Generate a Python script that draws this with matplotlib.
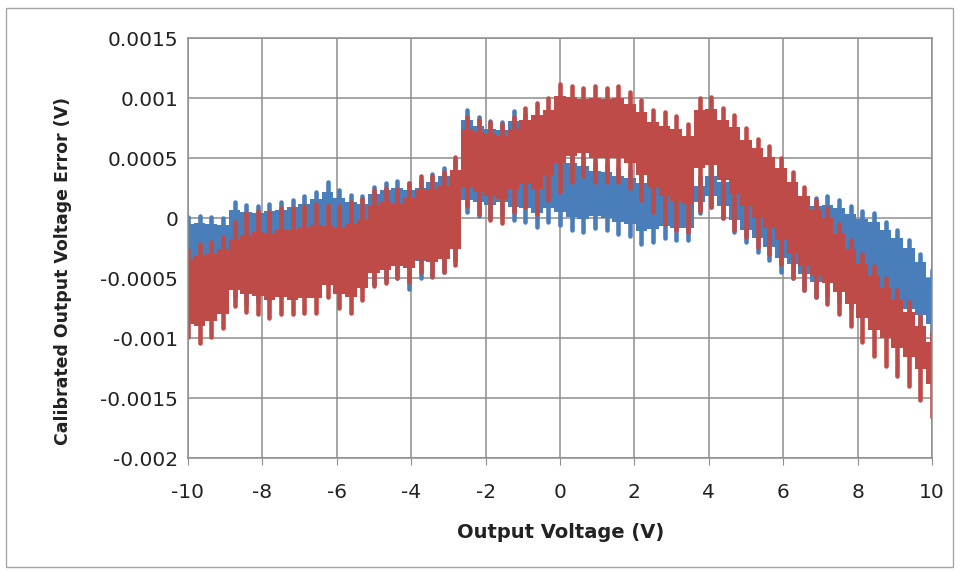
import numpy as np
import matplotlib
matplotlib.use('Agg')
import matplotlib.pyplot as plt
from matplotlib.patches import Rectangle

# Configuration
fig_w, fig_h, dpi = 9.61, 5.75, 100
blue_color = '#4A7EBB'
red_color = '#BE4B48'
grid_color = '#8E8E8E'
tick_font = 14.5
xlabel_font = 14
ylabel_font = 12.5
spike_width = 3.3  # points

# Spike positions along the output voltage axis (V)
x = np.linspace(-10, 10, 65)

# Values, in units of 1e-4 V
# blue series: upper tooth tips, upper body edge, lower body edge, lower spike tips
blue_hi_tip = [0.1, 0.2, 0.1, 0.0, 1.3, 1.1, 1.0, 1.2,
               1.3, 1.5, 1.8, 2.2, 3.0, 2.3, 1.9, 1.8,
               2.6, 2.9, 3.1, 2.9, 3.1, 3.7, 4.2, 4.8,
               9.0, 8.4, 8.1, 8.0, 8.9, 8.7, 8.0, 7.0,
               5.5, 5.3, 5.0, 4.6, 4.5, 4.2, 4.0, 3.6,
               3.5, 3.2, 3.0, 2.8, 3.4, 4.3, 3.8, 3.2,
               2.6, 2.2, 1.8, 1.5, 1.4, 1.6, 1.7, 1.8,
               1.5, 1.0, 0.6, 0.4, -0.3, -1.0, -1.8, -3.0,
               -4.3]
blue_hi_body = [-0.5, -0.4, -0.5, -0.6, 0.7, 0.5, 0.4, 0.6,
                0.7, 0.9, 1.2, 1.6, 2.2, 1.7, 1.3, 1.2,
                2.0, 2.3, 2.5, 2.3, 2.5, 3.0, 3.5, 4.0,
                8.2, 7.7, 7.4, 7.3, 8.1, 7.9, 7.2, 6.2,
                4.8, 4.6, 4.3, 3.9, 3.8, 3.5, 3.3, 2.9,
                2.8, 2.5, 2.3, 2.1, 2.7, 3.5, 3.0, 2.5,
                1.9, 1.5, 1.1, 0.8, 0.7, 0.9, 1.0, 1.1,
                0.8, 0.3, -0.1, -0.3, -1.0, -1.7, -2.5, -3.7,
                -5.0]
blue_lo_body = [-4.5, -4.8, -4.8, -4.8, -5.0, -5.3, -5.2, -5.0,
                -4.8, -4.6, -4.4, -4.2, -4.0, -4.2, -4.4, -4.2,
                -4.0, -3.8, -3.6, -4.2, -3.6, -3.4, -3.2, -2.4,
                1.5, 1.3, 1.1, 1.3, 0.9, 0.8, 0.4, 0.8,
                0.5, 0.1, -0.1, 0.2, 0.0, -0.3, -0.5, -1.1,
                -0.9, -0.7, -0.8, -0.8, 1.3, 1.8, 1.0, -0.2,
                -1.0, -1.7, -2.4, -3.3, -3.8, -4.7, -5.3, -5.3,
                -5.7, -6.1, -6.4, -6.6, -6.9, -7.2, -7.6, -8.1,
                -8.8]
blue_lo_tip = [-5.5, -6.0, -6.0, -6.0, -6.5, -7.2, -7.0, -6.8,
               -6.5, -6.3, -6.0, -5.8, -5.5, -5.8, -6.0, -5.8,
               -5.5, -5.2, -5.0, -5.9, -5.0, -4.8, -4.5, -3.5,
               0.5, 0.2, 0.0, 0.3, -0.2, -0.3, -0.75, -0.3,
               -0.6, -1.0, -1.2, -0.8, -1.0, -1.3, -1.5, -2.2,
               -2.0, -1.7, -1.8, -1.8, 0.4, 0.9, 0.0, -1.2,
               -2.0, -2.8, -3.5, -4.5, -5.0, -6.0, -6.6, -6.5,
               -7.0, -7.5, -7.8, -8.0, -8.3, -8.6, -9.0, -9.5,
               -10.2]

# red series
red_hi_tip = [-2.7, -2.2, -2.0, -1.6, -0.3, 0.4, 0.6, 0.5,
              0.8, 0.8, 1.0, 1.2, 1.1, 1.0, 1.3, 1.6,
              2.3, 2.5, 2.4, 2.9, 3.5, 3.5, 3.8, 5.1,
              8.4, 8.2, 8.0, 7.8, 8.4, 9.2, 9.6, 10.0,
              11.2, 11.0, 10.8, 11.0, 10.8, 11.0, 10.5, 9.8,
              9.0, 8.8, 8.5, 7.8, 10.0, 10.1, 9.2, 8.6,
              7.5, 6.6, 6.0, 5.0, 3.8, 2.6, 1.5, 0.8,
              -0.5, -1.8, -3.0, -4.0, -5.0, -6.0, -7.0, -8.2,
              -9.5]
red_hi_body = [-3.5, -3.2, -3.0, -2.6, -1.8, -1.4, -1.2, -1.3,
               -1.0, -1.0, -0.8, -0.6, -0.7, -0.8, -0.5, -0.2,
               1.0, 1.3, 1.2, 1.7, 2.3, 2.4, 2.7, 4.0,
               7.4, 7.2, 7.0, 6.8, 7.4, 8.2, 8.6, 9.0,
               10.2, 10.1, 9.9, 10.0, 9.9, 10.0, 9.5, 8.8,
               8.0, 7.7, 7.4, 6.8, 9.0, 9.1, 8.2, 7.6,
               6.5, 5.8, 5.1, 4.2, 3.0, 1.8, 0.7, 0.0,
               -1.3, -2.6, -3.8, -4.8, -5.8, -6.8, -7.8, -9.0,
               -10.3]
red_lo_body = [-8.8, -9.0, -8.6, -8.0, -6.0, -6.3, -6.5, -6.8,
               -6.6, -6.8, -6.7, -6.7, -5.6, -6.3, -6.6, -5.8,
               -4.6, -4.3, -4.0, -4.2, -3.5, -3.7, -3.4, -2.6,
               2.6, 2.2, 1.8, 1.6, 2.4, 2.8, 2.4, 3.6,
               4.6, 5.2, 5.4, 5.0, 5.0, 5.0, 4.6, 3.6,
               2.6, 1.8, 1.4, 1.2, 4.2, 4.4, 3.2, 2.0,
               1.0, 0.0, -0.8, -1.8, -3.0, -4.0, -4.8, -5.4,
               -6.2, -7.2, -8.3, -9.3, -10.0, -10.8, -11.6, -12.6,
               -13.8]
red_lo_tip = [-9.9, -10.4, -9.9, -9.2, -7.3, -7.8, -8.0, -8.3,
              -8.0, -8.0, -7.9, -7.9, -6.6, -7.5, -7.9, -6.8,
              -5.7, -5.4, -5.0, -5.3, -4.5, -4.9, -4.5, -3.9,
              1.0, 0.3, -0.2, -0.4, 0.5, 0.9, 0.3, 1.5,
              2.2, 3.0, 3.5, 3.0, 3.0, 3.0, 2.5, 1.5,
              0.5, -0.5, -1.0, -1.2, 0.6, 0.9, 0.0, -1.0,
              -1.6, -2.4, -3.0, -3.8, -5.0, -6.0, -6.6, -7.2,
              -8.0, -9.0, -10.3, -11.5, -12.3, -13.2, -14.0, -15.2,
              -16.6]

x_ticks = [-10, -8, -6, -4, -2, 0, 2, 4, 6, 8, 10]
y_ticks = [0.0015, 0.001, 0.0005, 0, -0.0005, -0.001, -0.0015, -0.002]
y_tick_labels = ['0.0015', '0.001', '0.0005', '0', '-0.0005', '-0.001', '-0.0015', '-0.002']

scale = 1e-4


def draw_series(ax, hi_tip, hi_body, lo_body, lo_tip, color):
    # solid body of the oscillation band
    ax.fill_between(x, np.array(lo_body) * scale, np.array(hi_body) * scale,
                    step='mid', color=color, lw=0, zorder=2)
    # individual spikes reaching out of the band
    ax.vlines(x, np.array(lo_tip) * scale, np.array(hi_tip) * scale,
              color=color, lw=spike_width, capstyle='round', zorder=2)


fig = plt.figure(figsize=(fig_w, fig_h), dpi=dpi)
ax = fig.add_axes([188 / 961, 1 - 458 / 575, (932 - 188) / 961, (458 - 38) / 575])

draw_series(ax, blue_hi_tip, blue_hi_body, blue_lo_body, blue_lo_tip, blue_color)
draw_series(ax, red_hi_tip, red_hi_body, red_lo_body, red_lo_tip, red_color)

ax.set_xlim(-10, 10)
ax.set_ylim(-0.002, 0.0015)
ax.set_xticks(x_ticks)
ax.set_xticklabels([str(t) for t in x_ticks], fontsize=tick_font, color='#222222')
ax.set_yticks(y_ticks)
ax.set_yticklabels(y_tick_labels, fontsize=tick_font, color='#222222')
ax.tick_params(axis='x', length=5, color=grid_color, pad=13)
ax.tick_params(axis='y', length=0, pad=7)
ax.grid(True, color=grid_color, lw=1.1, zorder=1)
ax.set_axisbelow(True)
for s in ax.spines.values():
    s.set_color(grid_color)
    s.set_linewidth(1.1)

fig.text(561 / 961, 1 - 532 / 575, 'Output Voltage (V)', ha='center', va='center',
         fontsize=xlabel_font, fontweight='bold', color='#222222')
fig.text(63 / 961, 1 - 271 / 575, 'Calibrated Output Voltage Error (V)', ha='center', va='center',
         rotation=90, fontsize=ylabel_font, fontweight='bold', color='#222222')

# outer chart border
fig.patches.append(Rectangle((6 / 961, 1 - 567 / 575), (953 - 6) / 961, (567 - 8) / 575,
                             transform=fig.transFigure, fill=False, ec='#A6A6A6', lw=1))

fig.savefig('out.png', dpi=dpi)
